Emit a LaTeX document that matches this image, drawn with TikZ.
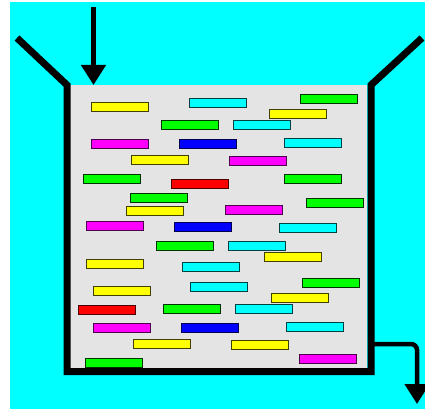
\documentclass[tikz,border=0pt]{standalone}
\usepackage{tikz}
\usetikzlibrary{arrows.meta}
\definecolor{tankgray}{RGB}{228,228,228}
\definecolor{skycyan}{RGB}{0,255,255}
\definecolor{hotpink}{RGB}{255,0,255}
\definecolor{lemon}{RGB}{255,255,0}
\definecolor{lime}{RGB}{0,255,0}
\definecolor{royal}{RGB}{0,0,255}
\definecolor{scarlet}{RGB}{255,0,0}
\tikzstyle{particle} = [rectangle, draw, line width=0.8pt, inner sep=0pt, minimum width=57pt, minimum height=9pt]
\tikzstyle{yellowbar} = [particle, fill=lemon, draw=lemon!25!black]
\tikzstyle{cyanbar} = [particle, fill=skycyan, draw=skycyan!25!black]
\tikzstyle{greenbar} = [particle, fill=lime, draw=lime!20!black]
\tikzstyle{magentabar} = [particle, fill=hotpink, draw=hotpink!30!black]
\tikzstyle{bluebar} = [particle, fill=royal, draw=royal!30!black]
\tikzstyle{redbar} = [particle, fill=scarlet, draw=scarlet!30!black]
\tikzstyle{wall} = [line width=7pt, black]
\tikzstyle{flow} = [-{Triangle[length=20pt,width=24pt]}, line width=4.5pt]

\begin{document}
\begin{tikzpicture}[x=1pt, y=-1pt]
    % Background
    \useasboundingbox (0,0) rectangle (425,409);
    \fill[white] (0,0) rectangle (425,409);
    \fill[skycyan] (10,2) rectangle (425,409);

    % Tank
    \fill[tankgray] (70,85) rectangle (367,368);
    \draw[wall] (17,38) -- (67,85) -- (67,371.5) -- (371,371.5) -- (371,85) -- (422,38);

    % Particles
    \node[yellowbar] (p1) at (119.5,106.5) {};
    \node[cyanbar] (p2) at (217.5,102.5) {};
    \node[greenbar] (p3) at (328.5,98.5) {};
    \node[yellowbar] (p4) at (297.5,113.5) {};
    \node[greenbar] (p5) at (189.5,124.5) {};
    \node[cyanbar] (p6) at (261.5,124.5) {};
    \node[magentabar] (p7) at (119.5,143.5) {};
    \node[bluebar] (p8) at (207.5,143.5) {};
    \node[cyanbar] (p9) at (312.5,142.5) {};
    \node[yellowbar] (p10) at (159.5,159.5) {};
    \node[magentabar] (p11) at (257.5,160.5) {};
    \node[greenbar] (p12) at (111.5,178.5) {};
    \node[redbar] (p13) at (199.5,183.5) {};
    \node[greenbar] (p14) at (312.5,178.5) {};
    \node[greenbar] (p15) at (158.5,197.5) {};
    \node[yellowbar] (p16) at (154.5,210.5) {};
    \node[magentabar] (p17) at (253.5,209.5) {};
    \node[greenbar] (p18) at (334.5,202.5) {};
    \node[magentabar] (p19) at (114.5,225.5) {};
    \node[bluebar] (p20) at (202.5,226.5) {};
    \node[cyanbar] (p21) at (307.5,227.5) {};
    \node[greenbar] (p22) at (184.5,245.5) {};
    \node[cyanbar] (p23) at (256.5,245.5) {};
    \node[yellowbar] (p24) at (292.5,256.5) {};
    \node[yellowbar] (p25) at (114.5,263.5) {};
    \node[cyanbar] (p26) at (210.5,266.5) {};
    \node[greenbar] (p27) at (330.5,282.5) {};
    \node[yellowbar] (p28) at (121.5,290.5) {};
    \node[cyanbar] (p29) at (218.5,286.5) {};
    \node[yellowbar] (p30) at (299.5,297.5) {};
    \node[redbar] (p31) at (106.5,309.5) {};
    \node[greenbar] (p32) at (191.5,308.5) {};
    \node[cyanbar] (p33) at (263.5,308.5) {};
    \node[magentabar] (p34) at (121.5,327.5) {};
    \node[bluebar] (p35) at (209.5,327.5) {};
    \node[cyanbar] (p36) at (314.5,326.5) {};
    \node[yellowbar] (p37) at (161.5,343.5) {};
    \node[yellowbar] (p38) at (259.5,344.5) {};
    \node[magentabar] (p39) at (327.5,358.5) {};
    \node[greenbar] (p40) at (113.5,362.5) {};

    % Inlet and outlet
    \coordinate (feedtop) at (93.5,7);
    \coordinate (feedend) at (93.5,85);
    \coordinate (drainstart) at (374,344);
    \coordinate (drainend) at (417,404);
    \draw[flow] (feedtop) -- (feedend);
    \draw[flow, rounded corners=6pt] (drainstart) -| (drainend);
\end{tikzpicture}
\end{document}
